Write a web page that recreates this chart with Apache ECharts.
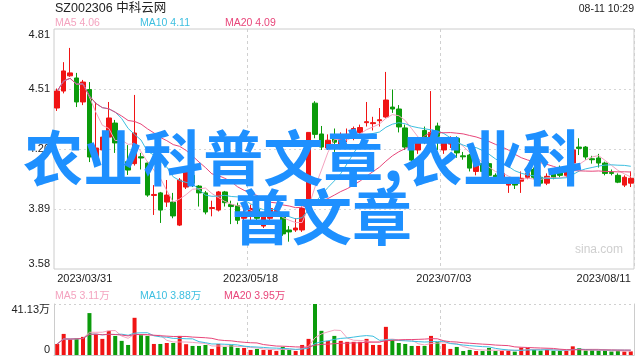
<!DOCTYPE html>
<html><head><meta charset="utf-8">
<script src="https://cdn.jsdelivr.net/npm/echarts@6/dist/echarts.min.js"></script>
<style>html,body{margin:0;padding:0;background:#fff}#c{width:640px;height:360px}</style>
</head><body><div id="c"></div>
<script>
// ---- data ----
const stockTitle = 'SZ002306 中科云网';
const timeText = '08-11 10:29';
const overlayLine1 = '农业科普文章,农业科';
const overlayLine2 = '普文章';
const dates = ['2023/03/31',
 '2023/04/03','2023/04/04','2023/04/06','2023/04/07','2023/04/10','2023/04/11','2023/04/12','2023/04/13','2023/04/14','2023/04/17','2023/04/18','2023/04/19','2023/04/20','2023/04/21','2023/04/24','2023/04/25','2023/04/26','2023/04/27','2023/04/28',
 '2023/05/04','2023/05/05','2023/05/08','2023/05/09','2023/05/10','2023/05/11','2023/05/12','2023/05/15','2023/05/16','2023/05/17','2023/05/18','2023/05/19','2023/05/22','2023/05/23','2023/05/24','2023/05/25','2023/05/26','2023/05/29','2023/05/30','2023/05/31',
 '2023/06/01','2023/06/02','2023/06/05','2023/06/06','2023/06/07','2023/06/08','2023/06/09','2023/06/12','2023/06/13','2023/06/14','2023/06/15','2023/06/16','2023/06/19','2023/06/20','2023/06/21','2023/06/26','2023/06/27','2023/06/28','2023/06/29','2023/06/30',
 '2023/07/03','2023/07/04','2023/07/05','2023/07/06','2023/07/07','2023/07/10','2023/07/11','2023/07/12','2023/07/13','2023/07/14','2023/07/17','2023/07/18','2023/07/19','2023/07/20','2023/07/21','2023/07/24','2023/07/25','2023/07/26','2023/07/27','2023/07/28','2023/07/31',
 '2023/08/01','2023/08/02','2023/08/03','2023/08/04','2023/08/07','2023/08/08','2023/08/09','2023/08/10','2023/08/11'];
const opens = [4.405,4.492,4.57,4.559,4.436,4.50,4.15,4.19,4.256,4.328,
 4.23,4.13,4.12,4.155,4.123,3.957,3.97,3.923,3.923,3.805,
 4.00,4.06,4.005,3.97,3.89,3.882,3.975,3.91,3.905,3.84,
 3.85,3.885,3.80,3.84,3.87,3.86,3.78,3.78,3.78,3.90,
 4.43,4.272,4.20,4.25,4.22,4.25,4.26,4.28,4.33,4.325,
 4.34,4.359,4.41,4.40,4.303,4.20,4.19,4.29,4.24,4.313,
 4.19,4.22,4.25,4.16,4.164,4.08,4.12,4.12,4.06,4.05,
 4.01,4.045,4.03,4.05,4.09,4.05,4.02,4.07,4.10,4.06,
 4.123,4.205,4.205,4.145,4.149,4.123,4.075,4.06,4.01,4.02];
const closes = [4.492,4.595,4.585,4.436,4.538,4.154,4.20,4.256,4.354,4.226,
 4.17,4.087,4.277,4.149,3.959,3.962,3.882,3.959,3.852,4.036,
 4.077,4.02,3.97,3.872,3.895,3.975,3.92,3.90,3.83,3.87,
 3.89,3.84,3.85,3.89,3.88,3.76,3.77,3.79,3.89,4.28,
 4.27,4.205,4.24,4.23,4.26,4.27,4.30,4.305,4.335,4.33,
 4.345,4.446,4.40,4.308,4.205,4.138,4.23,4.25,4.28,4.26,
 4.226,4.23,4.175,4.155,4.097,4.12,4.08,4.06,4.04,4.07,
 4.03,4.01,4.045,4.07,4.05,4.02,4.055,4.045,4.06,4.09,
 4.19,4.198,4.154,4.14,4.123,4.07,4.07,4.025,4.05,4.045];
const lows = [4.39,4.48,4.565,4.41,4.42,4.128,4.14,4.15,4.24,4.175,
 4.15,4.062,4.11,4.09,3.95,3.857,3.816,3.898,3.84,3.80,
 3.99,4.00,3.90,3.86,3.85,3.875,3.90,3.81,3.81,3.82,
 3.83,3.82,3.79,3.83,3.85,3.75,3.72,3.77,3.77,3.89,
 4.25,4.19,4.19,4.18,4.20,4.23,4.24,4.27,4.31,4.29,
 4.31,4.355,4.38,4.28,4.19,4.11,4.17,4.22,4.22,4.19,
 4.17,4.20,4.15,4.14,4.08,4.06,4.06,4.05,4.02,4.04,
 3.97,3.99,3.97,4.04,4.04,4.01,4.01,4.04,4.05,4.05,
 4.11,4.164,4.14,4.12,4.10,4.06,4.06,4.02,4.00,4.00];
const highs = [4.505,4.64,4.713,4.585,4.549,4.538,4.436,4.27,4.436,4.344,
 4.26,4.215,4.472,4.175,4.13,4.01,3.975,4.036,3.97,4.046,
 4.10,4.08,4.01,3.98,3.93,3.98,3.98,3.93,3.92,3.90,
 3.91,3.90,3.86,3.90,3.90,3.87,3.80,3.84,3.90,4.28,
 4.44,4.313,4.27,4.30,4.28,4.30,4.31,4.32,4.436,4.36,
 4.405,4.59,4.50,4.42,4.32,4.22,4.25,4.31,4.492,4.33,
 4.24,4.26,4.26,4.18,4.17,4.14,4.13,4.13,4.07,4.08,
 4.05,4.05,4.08,4.10,4.10,4.06,4.07,4.09,4.11,4.10,
 4.20,4.25,4.21,4.16,4.17,4.13,4.09,4.07,4.06,4.08];
// volume in 万
const volumes = [8.9,17.0,12.7,13.5,14.6,33.8,17.0,13.0,19.5,15.4,
 11.4,8.1,30.0,16.2,15.4,8.9,8.9,9.7,9.7,15.4,
 8.7,7.3,7.3,8.1,4.9,8.9,6.5,8.1,5.7,5.7,
 4.1,4.9,4.1,4.1,3.2,6.5,4.1,3.2,8.1,13.0,
 41.13,19.5,11.4,15.4,11.4,10.6,10.6,10.6,13.0,8.1,
 8.1,22.7,12.2,9.7,8.9,7.3,7.3,7.3,15.4,10.6,
 8.9,4.9,6.5,3.2,4.1,3.2,3.2,5.7,3.2,3.2,
 3.5,2.7,6.0,5.9,4.3,3.5,4.3,3.4,3.4,3.4,
 7.0,5.5,3.5,3.6,3.4,3.5,2.8,3.6,2.8,2.9];
const priceMin = 3.58, priceMax = 4.81;
const yTickLabels = ['3.58','3.89','4.20','4.51','4.81'];
const volMax = 41.13;
const volTickLabels = ['0','41.13万'];
const xLabelIdx = [0,30,60,89];
const xGridIdx = [30,60];
const maNames = ['MA5','MA10','MA20'];
const maPeriods = [5,10,20];
const maLegendValues = ['4.06','4.11','4.09'];
const volLegendValues = ['3.11万','3.88万','3.95万'];

// ---- styles ----
const UP = '#f01414', DOWN = '#0b9b0b';
const MA_COLORS = ['#f4a3bf','#3dbfe0','#e8467a'];
const FONT = '"Liberation Sans","Noto Sans CJK SC",Arial,sans-serif';
const GRID_C = '#cccccc';

function movingAvg(arr, n){
  return arr.map((_, i) => {
    const s = Math.max(0, i - n + 1);
    let sum = 0; for (let k = s; k <= i; k++) sum += arr[k];
    return +(sum / (i - s + 1)).toFixed(4);
  });
}

const chart = echarts.init(document.getElementById('c'), null, {renderer:'canvas'});
const candleData = dates.map((_, i) => [opens[i], closes[i], lows[i], highs[i]]);
const volData = volumes.map((v, i) => ({value: v, itemStyle: {color: closes[i] >= opens[i] ? UP : DOWN}}));

const series = [{
  type:'candlestick', xAxisIndex:0, yAxisIndex:0, data:candleData, barWidth:5,
  itemStyle:{color:UP, color0:DOWN, borderColor:UP, borderColor0:DOWN, borderWidth:1}, z:2
}];
maPeriods.forEach((p, k) => series.push({
  type:'line', name:maNames[k], xAxisIndex:0, yAxisIndex:0, data:movingAvg(closes, p),
  showSymbol:false, symbol:'none', lineStyle:{width:1, color:MA_COLORS[k]}, z:3
}));
series.push({type:'bar', xAxisIndex:1, yAxisIndex:2, data:volData, barWidth:4, z:2});
maPeriods.forEach((p, k) => series.push({
  type:'line', xAxisIndex:1, yAxisIndex:2, data:movingAvg(volumes, p),
  showSymbol:false, symbol:'none', lineStyle:{width:1, color:MA_COLORS[k]}, z:3
}));

const splitX = {show:true, interval:(i) => xGridIdx.includes(i), lineStyle:{color:'#d0d0d0', type:[3,3], width:1}};
const labelStyle = {color:'#222', fontSize:11, fontFamily:FONT};

const graphics = [
  {type:'text', x:55, y:8.5, style:{text:stockTitle, fill:'#222', font:'12.5px ' + FONT, verticalAlign:'middle'}},
  {type:'text', x:634, y:9, style:{text:timeText, fill:'#222', font:'10.5px ' + FONT, align:'right', verticalAlign:'middle'}},
  {type:'text', x:623, y:250, style:{text:'sina.com', fill:'#cfcfcf', font:'12px ' + FONT, align:'right', verticalAlign:'middle'}}
];
const legX = [55,140,225];
maNames.forEach((n, k) => {
  graphics.push({type:'text', x:legX[k], y:23.5, style:{text:n + ' ' + maLegendValues[k], fill:MA_COLORS[k], font:'10.5px ' + FONT, verticalAlign:'middle'}});
  graphics.push({type:'text', x:legX[k] - (k===2?1:0), y:296, style:{text:n + ' ' + volLegendValues[k], fill:MA_COLORS[k], font:'10.5px ' + FONT, verticalAlign:'middle'}});
});
graphics.push({type:'text', x:303, y:158, z:100, style:{text:overlayLine1, fill:'#1e90ff', font:'bold 60px "Noto Sans CJK SC",sans-serif', align:'center', verticalAlign:'middle'}});
graphics.push({type:'text', x:322, y:217, z:100, style:{text:overlayLine2, fill:'#1e90ff', font:'bold 60px "Noto Sans CJK SC",sans-serif', align:'center', verticalAlign:'middle'}});

chart.setOption({
  animation:false,
  backgroundColor:'#ffffff',
  grid:[
    {left:54, right:6, top:29, height:240, show:true, borderColor:GRID_C, borderWidth:1, backgroundColor:'transparent'},
    {left:54, right:6, top:304, height:51}
  ],
  xAxis:[
    {type:'category', gridIndex:0, data:dates, boundaryGap:true,
     axisLine:{show:false}, axisTick:{show:false},
     axisLabel:Object.assign({interval:(i) => xLabelIdx.includes(i), margin:4, alignMinLabel:'left', alignMaxLabel:'right', showMinLabel:true, showMaxLabel:true}, labelStyle),
     splitLine:splitX},
    {type:'category', gridIndex:1, data:dates, boundaryGap:true,
     axisLine:{show:true, lineStyle:{color:GRID_C}}, axisTick:{show:false}, axisLabel:{show:false},
     splitLine:splitX}
  ],
  yAxis:[
    {type:'value', gridIndex:0, min:priceMin, max:priceMax, show:false, splitLine:{show:false}},
    {type:'value', gridIndex:0, min:0, max:yTickLabels.length - 1, interval:1, position:'left',
     axisLine:{show:false}, axisTick:{show:false},
     axisLabel:Object.assign({formatter:(v) => yTickLabels[Math.round(v)], margin:4, verticalAlignMinLabel:'bottom', verticalAlignMaxLabel:'top'}, labelStyle),
     splitLine:{show:true, showMinLine:false, showMaxLine:false, lineStyle:{color:'#d6d6d6', type:[2,3], width:1}}},
    {type:'value', gridIndex:1, min:0, max:volMax, interval:volMax, position:'left',
     axisLine:{show:true, lineStyle:{color:GRID_C}}, axisTick:{show:false},
     axisLabel:Object.assign({formatter:(v) => v === 0 ? volTickLabels[0] : volTickLabels[1], margin:4, verticalAlignMinLabel:'bottom', verticalAlignMaxLabel:'top'}, labelStyle),
     splitLine:{show:true, showMinLine:false, lineStyle:{color:'#d0d0d0', type:[2,3], width:1}}},
    {type:'value', gridIndex:1, min:0, max:volMax, position:'right',
     axisLine:{show:true, lineStyle:{color:GRID_C}}, axisTick:{show:false}, axisLabel:{show:false}, splitLine:{show:false}}
  ],
  series:series,
  graphic:graphics
});
</script></body></html>
